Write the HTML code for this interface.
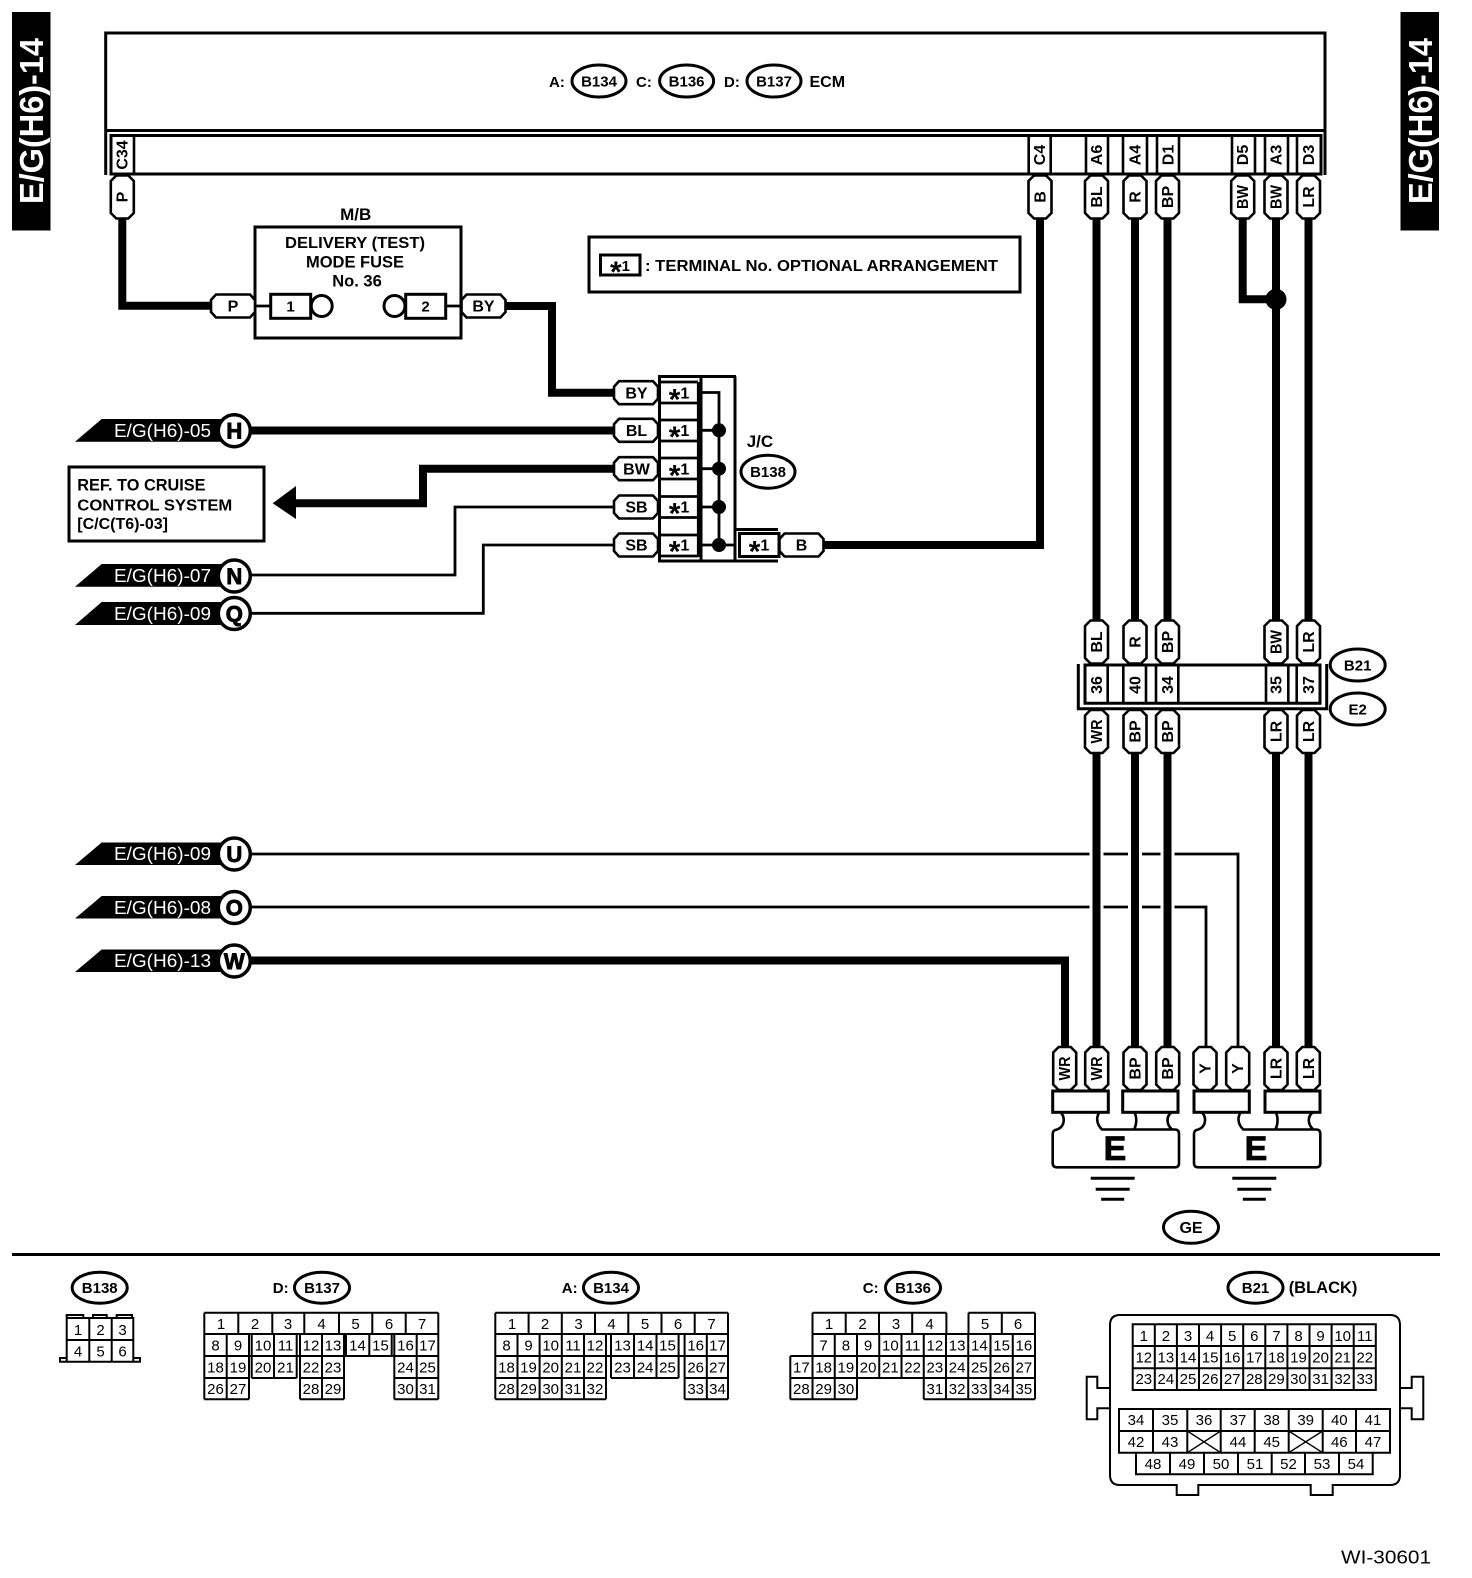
<!DOCTYPE html>
<html><head><meta charset="utf-8"><style>
html,body{margin:0;padding:0;background:#fff}
svg{display:block;font-family:"Liberation Sans",sans-serif}
.w{fill:none;stroke:#000;stroke-width:8}
.n{fill:none;stroke:#000;stroke-width:2.8}
.l{fill:none;stroke:#000;stroke-width:3}
.g{fill:none;stroke:#000;stroke-width:2}
.p{fill:#fff;stroke:#000;stroke-width:2.6}
.b{font-weight:bold;font-size:15px;fill:#000}
.pl{font-weight:bold;font-size:16px;text-anchor:middle}
.c{font-weight:bold;font-size:15px;text-anchor:middle}
.d{font-size:15px;text-anchor:middle}
.bn{font-size:18px;fill:#fff}
.ci{font-weight:bold;font-size:22px;text-anchor:middle;stroke:#000;stroke-width:.9}
.st{font-size:30px}
</style></head><body>
<svg width="1472" height="1578" viewBox="0 0 1472 1578" xmlns="http://www.w3.org/2000/svg">
<defs>
<path id="pv" class="p" d="M-11.5,-16 L-6,-21.5 H6 L11.5,-16 V16 L6,21.5 H-6 L-11.5,16 Z"/>
<path id="ph" class="p" d="M-22,-6 L-17,-11.5 H17 L22,-6 V6 L17,11.5 H-17 L-22,6 Z"/>
<path id="gnd" class="l" d="M-22,0 H22 M-17,11 H17 M-11.5,21 H11.5"/>
<path id="body" class="l" style="stroke-width:2.6" d="M1060,1112 C1065,1116 1065,1124 1060,1128 L1057,1129.5 Q1052.7,1130 1052.7,1134 V1163 Q1052.7,1167.3 1057,1167.3 H1175 Q1179,1167.3 1179,1163 V1134 Q1179,1129.5 1175,1129.5 H1102 C1096,1124 1096,1116 1100,1112 M1134,1112 C1137,1116 1137,1124 1134,1129.5 M1172,1112 C1166,1116 1166,1124 1172,1129.5"/>
</defs>

<!-- side tabs -->
<rect x="12" y="12" width="38.5" height="218.5" fill="#000"/>
<rect x="1400.5" y="12" width="38.5" height="218.5" fill="#000"/>
<text transform="translate(43,204) rotate(-90)" font-weight="bold" font-size="33" fill="#fff" textLength="166" lengthAdjust="spacingAndGlyphs">E/G(H6)-14</text>
<text transform="translate(1432,204) rotate(-90)" font-weight="bold" font-size="33" fill="#fff" textLength="166" lengthAdjust="spacingAndGlyphs">E/G(H6)-14</text>

<!-- ECM box -->
<path class="l" d="M105.7,175 V33 H1325 V175 M105.7,130.5 H1325"/>
<path class="l" d="M111,174 V135.5 H1321 V174 Z"/>
<path class="l" style="stroke-width:2.6" d="M134,135 V174 M1028.7,135 V174 M1050.7,135 V174 M1086,135 V174 M1108,135 V174 M1123,135 V174 M1147,135 V174 M1157,135 V174 M1179,135 V174 M1232,135 V174 M1255,135 V174 M1265,135 V174 M1288,135 V174 M1297,135 V174"/>
<text class="b" x="549" y="87">A:</text>
<ellipse class="l" cx="599" cy="81" rx="27" ry="16" fill="#fff"/>
<text class="c" x="599" y="86.5">B134</text>
<text class="b" x="636" y="87">C:</text>
<ellipse class="l" cx="686.6" cy="81" rx="27" ry="16" fill="#fff"/>
<text class="c" x="686.6" y="86.5">B136</text>
<text class="b" x="724" y="87">D:</text>
<ellipse class="l" cx="774" cy="81" rx="27" ry="16" fill="#fff"/>
<text class="c" x="774" y="86.5">B137</text>
<text class="b" x="809.5" y="87" style="font-size:16px">ECM</text>
<g class="pl">
<text transform="translate(127.5,155) rotate(-90)">C34</text>
<text transform="translate(1045,155) rotate(-90)">C4</text>
<text transform="translate(1102,155) rotate(-90)">A6</text>
<text transform="translate(1140.5,155) rotate(-90)">A4</text>
<text transform="translate(1173.5,155) rotate(-90)">D1</text>
<text transform="translate(1248,155) rotate(-90)">D5</text>
<text transform="translate(1281.5,155) rotate(-90)">A3</text>
<text transform="translate(1314,155) rotate(-90)">D3</text>
</g>

<!-- thin wires -->
<path class="n" d="M251,575 H455 V507 H616"/>
<path class="n" d="M251,613.3 H483.3 V545 H616"/>
<path class="n" d="M251,854 H1238 V1047"/>
<path class="n" d="M251,907 H1206 V1047"/>
<rect x="1089.5" y="848" width="14" height="65" fill="#fff"/>
<rect x="1128" y="848" width="14" height="65" fill="#fff"/>
<rect x="1160.5" y="848" width="14" height="65" fill="#fff"/>

<!-- thick wires -->
<path class="w" d="M122.3,218 V305.7 H212"/>
<path class="w" d="M506,306 H552 V392.7 H615"/>
<path class="w" d="M251,430.5 H615"/>
<path class="w" d="M295,503.3 H423 V468.7 H615"/>
<path class="w" d="M822,545 H1040 V218"/>
<path class="w" d="M1096.5,218 V620 M1135,218 V620 M1167.5,218 V620 M1276,218 V620 M1308.5,218 V620"/>
<path class="w" d="M1242.7,218 V299.3 H1276"/>
<circle cx="1276" cy="299.3" r="10.5" fill="#000"/>
<path class="w" d="M1096.5,753 V1047 M1135,753 V1047 M1167.5,753 V1047 M1276,753 V1047 M1308.5,753 V1047"/>
<path class="w" d="M251,960.5 H1065 V1047"/>

<!-- top pins -->
<use href="#pv" x="122.3" y="197"/>
<use href="#pv" x="1040" y="197"/>
<use href="#pv" x="1096.5" y="197"/>
<use href="#pv" x="1135" y="197"/>
<use href="#pv" x="1167.5" y="197"/>
<use href="#pv" x="1242.7" y="197"/>
<use href="#pv" x="1276" y="197"/>
<use href="#pv" x="1308.5" y="197"/>
<g class="pl">
<text transform="translate(127.7,197) rotate(-90)">P</text>
<text transform="translate(1045.4,197) rotate(-90)">B</text>
<text transform="translate(1102,197) rotate(-90)">BL</text>
<text transform="translate(1140.5,197) rotate(-90)">R</text>
<text transform="translate(1173,197) rotate(-90)">BP</text>
<text transform="translate(1248,197) rotate(-90)" textLength="24" lengthAdjust="spacingAndGlyphs">BW</text>
<text transform="translate(1281.5,197) rotate(-90)" textLength="24" lengthAdjust="spacingAndGlyphs">BW</text>
<text transform="translate(1314,197) rotate(-90)">LR</text>
</g>

<!-- M/B -->
<text class="c" x="355.7" y="220" style="font-size:17px">M/B</text>
<rect class="l" x="255" y="227" width="206" height="111" fill="#fff"/>
<text class="c" x="355" y="248" style="font-size:16px" textLength="140" lengthAdjust="spacingAndGlyphs">DELIVERY (TEST)</text>
<text class="c" x="355" y="267.7" style="font-size:16.5px">MODE FUSE</text>
<text class="c" x="357" y="286.7" style="font-size:16.5px">No. 36</text>
<path class="n" d="M255,306 H271 M446,306 H461"/>
<rect class="l" x="270.7" y="294.3" width="40" height="24" fill="#fff"/>
<rect class="l" x="405.7" y="294.3" width="40" height="24" fill="#fff"/>
<circle class="l" cx="321.7" cy="306" r="10.5" fill="#fff"/>
<circle class="l" cx="394.5" cy="306" r="10.5" fill="#fff"/>
<text class="c" x="290.5" y="311.5">1</text>
<text class="c" x="425.5" y="311.5">2</text>
<use href="#ph" x="233" y="306"/>
<use href="#ph" x="483.5" y="306"/>
<text class="c" x="233" y="311.5" style="font-size:16px">P</text>
<text class="c" x="483.5" y="311.5" style="font-size:16px">BY</text>

<!-- legend -->
<rect class="l" x="589" y="237" width="431" height="55" fill="#fff"/>
<rect class="l" x="600.5" y="255" width="39.5" height="20" fill="#fff"/>
<text class="c" x="620" y="271"><tspan class="st" dy="11">*</tspan><tspan dy="-11">1</tspan></text>
<text class="b" x="645" y="271" style="font-size:16px" textLength="353" lengthAdjust="spacingAndGlyphs">: TERMINAL No. OPTIONAL ARRANGEMENT</text>

<!-- J/C -->
<path class="l" d="M658,376.5 H736 M658,561 H778 M659.5,376.5 V561 M701,376.5 V561 M735,376.5 V561 M736,529.5 H778"/>
<path class="n" d="M698.3,382 V557 M660,382 H698 M660,403 H698 M660,420 H698 M660,441 H698 M660,458 H698 M660,479 H698 M660,496.5 H698 M660,517.5 H698 M660,535 H698 M660,556 H698"/>
<path class="n" d="M702,392.5 H719 V545 M702,430.3 H719 M702,468.7 H719 M702,507 H719 M702,545 H735"/>
<circle cx="719" cy="430.3" r="7" fill="#000"/>
<circle cx="719" cy="468.7" r="7" fill="#000"/>
<circle cx="719" cy="507" r="7" fill="#000"/>
<circle cx="719" cy="545" r="7" fill="#000"/>
<rect class="l" x="739.5" y="533.5" width="39.5" height="23" fill="#fff"/>
<use href="#ph" x="636" y="392.7"/>
<use href="#ph" x="636" y="430.3"/>
<use href="#ph" x="636" y="468.7"/>
<use href="#ph" x="636" y="507"/>
<use href="#ph" x="636" y="545"/>
<use href="#ph" x="801.5" y="545"/>
<g style="font-size:16px" class="c">
<text x="636.5" y="398.5">BY</text>
<text x="636.5" y="436">BL</text>
<text x="636.5" y="474.5">BW</text>
<text x="636.5" y="512.5">SB</text>
<text x="636.5" y="550.5">SB</text>
<text x="801.5" y="550.5">B</text>
<text x="679" y="398.5"><tspan class="st" dy="11">*</tspan><tspan dy="-11">1</tspan></text>
<text x="679" y="436"><tspan class="st" dy="11">*</tspan><tspan dy="-11">1</tspan></text>
<text x="679" y="474.5"><tspan class="st" dy="11">*</tspan><tspan dy="-11">1</tspan></text>
<text x="679" y="512.5"><tspan class="st" dy="11">*</tspan><tspan dy="-11">1</tspan></text>
<text x="679" y="550.5"><tspan class="st" dy="11">*</tspan><tspan dy="-11">1</tspan></text>
<text x="759" y="550.5"><tspan class="st" dy="11">*</tspan><tspan dy="-11">1</tspan></text>
</g>
<text class="b" x="746.7" y="447" style="font-size:17px">J/C</text>
<ellipse class="l" cx="768" cy="471.7" rx="27" ry="16.5" fill="#fff"/>
<text class="c" x="768" y="477">B138</text>

<!-- off-page banners -->
<path d="M75,441.7 L101.7,419 H230 V441.7 Z"/>
<path d="M75,586.7 L101.7,564 H230 V586.7 Z"/>
<path d="M75,625 L101.7,602 H230 V625 Z"/>
<path d="M75,865 L101.7,842.5 H230 V865 Z"/>
<path d="M75,918.5 L101.7,896 H230 V918.5 Z"/>
<path d="M75,972 L101.7,949.5 H230 V972 Z"/>
<g class="bn">
<text x="114" y="437" textLength="97" lengthAdjust="spacingAndGlyphs">E/G(H6)-05</text>
<text x="114" y="582" textLength="97" lengthAdjust="spacingAndGlyphs">E/G(H6)-07</text>
<text x="114" y="620" textLength="97" lengthAdjust="spacingAndGlyphs">E/G(H6)-09</text>
<text x="114" y="860" textLength="97" lengthAdjust="spacingAndGlyphs">E/G(H6)-09</text>
<text x="114" y="914" textLength="97" lengthAdjust="spacingAndGlyphs">E/G(H6)-08</text>
<text x="114" y="967" textLength="97" lengthAdjust="spacingAndGlyphs">E/G(H6)-13</text>
</g>
<g fill="#fff" stroke="#000" stroke-width="3.5">
<circle cx="234.3" cy="430.7" r="16"/>
<circle cx="234.3" cy="576" r="16"/>
<circle cx="234.3" cy="613.5" r="16"/>
<circle cx="234.3" cy="854" r="16"/>
<circle cx="234.3" cy="907.5" r="16"/>
<circle cx="234.3" cy="961" r="16"/>
</g>
<g class="ci">
<text x="234.3" y="438.5">H</text>
<text x="234.3" y="584">N</text>
<text x="234.3" y="621.5">Q</text>
<text x="234.3" y="862">U</text>
<text x="234.3" y="915.5">O</text>
<text x="234.3" y="969">W</text>
</g>

<!-- REF box -->
<rect class="l" x="69" y="467" width="195" height="74" fill="#fff"/>
<text class="b" x="77.3" y="490.7" style="font-size:16.3px">REF. TO CRUISE</text>
<text class="b" x="77.3" y="510.5" style="font-size:16px" textLength="155" lengthAdjust="spacingAndGlyphs">CONTROL SYSTEM</text>
<text class="b" x="77.3" y="529" style="font-size:16px">[C/C(T6)-03]</text>
<path d="M272.7,503.3 L296,486 V519 Z"/>

<!-- B21/E2 connector -->
<path class="l" d="M1078.3,664 V708.7 H1326.7 V664 M1085,665 V703.3 H1320 V665 Z"/>
<path class="l" style="stroke-width:2.6" d="M1107.7,665 V703 M1123.3,665 V703 M1146,665 V703 M1156,665 V703 M1178.3,665 V703 M1266,665 V703 M1288.3,665 V703 M1296.7,665 V703"/>
<use href="#pv" x="1096.5" y="642"/>
<use href="#pv" x="1135" y="642"/>
<use href="#pv" x="1167.5" y="642"/>
<use href="#pv" x="1276" y="642"/>
<use href="#pv" x="1308.5" y="642"/>
<use href="#pv" x="1096.5" y="731.5"/>
<use href="#pv" x="1135" y="731.5"/>
<use href="#pv" x="1167.5" y="731.5"/>
<use href="#pv" x="1276" y="731.5"/>
<use href="#pv" x="1308.5" y="731.5"/>
<g class="pl">
<text transform="translate(1102,642) rotate(-90)">BL</text>
<text transform="translate(1140.5,642) rotate(-90)">R</text>
<text transform="translate(1173,642) rotate(-90)">BP</text>
<text transform="translate(1281.5,642) rotate(-90)" textLength="24" lengthAdjust="spacingAndGlyphs">BW</text>
<text transform="translate(1314,642) rotate(-90)">LR</text>
<text transform="translate(1102,685) rotate(-90)">36</text>
<text transform="translate(1140.5,685) rotate(-90)">40</text>
<text transform="translate(1173,685) rotate(-90)">34</text>
<text transform="translate(1281.5,685) rotate(-90)">35</text>
<text transform="translate(1314,685) rotate(-90)">37</text>
<text transform="translate(1102,731.5) rotate(-90)" textLength="24" lengthAdjust="spacingAndGlyphs">WR</text>
<text transform="translate(1140.5,731.5) rotate(-90)">BP</text>
<text transform="translate(1173,731.5) rotate(-90)">BP</text>
<text transform="translate(1281.5,731.5) rotate(-90)">LR</text>
<text transform="translate(1314,731.5) rotate(-90)">LR</text>
</g>
<ellipse class="l" cx="1357.7" cy="665" rx="27.5" ry="16" fill="#fff"/>
<text class="c" x="1357.7" y="670.5">B21</text>
<ellipse class="l" cx="1357.7" cy="709" rx="27.5" ry="16" fill="#fff"/>
<text class="c" x="1357.7" y="714.5">E2</text>

<!-- ground pins -->
<use href="#pv" x="1064.7" y="1068.5"/>
<use href="#pv" x="1096.7" y="1068.5"/>
<use href="#pv" x="1135" y="1068.5"/>
<use href="#pv" x="1167.7" y="1068.5"/>
<use href="#pv" x="1205" y="1068.5"/>
<use href="#pv" x="1237.7" y="1068.5"/>
<use href="#pv" x="1276" y="1068.5"/>
<use href="#pv" x="1308.3" y="1068.5"/>
<g class="pl">
<text transform="translate(1070.2,1068.5) rotate(-90)" textLength="24" lengthAdjust="spacingAndGlyphs">WR</text>
<text transform="translate(1102.2,1068.5) rotate(-90)" textLength="24" lengthAdjust="spacingAndGlyphs">WR</text>
<text transform="translate(1140.5,1068.5) rotate(-90)">BP</text>
<text transform="translate(1173.2,1068.5) rotate(-90)">BP</text>
<text transform="translate(1210.5,1068.5) rotate(-90)">Y</text>
<text transform="translate(1243.2,1068.5) rotate(-90)">Y</text>
<text transform="translate(1281.5,1068.5) rotate(-90)">LR</text>
<text transform="translate(1313.8,1068.5) rotate(-90)">LR</text>
</g>
<g class="l" fill="#fff" style="fill:#fff">
<rect x="1052.7" y="1091" width="55.6" height="21.3"/>
<rect x="1122.7" y="1091" width="55.3" height="21.3"/>
<rect x="1194" y="1091" width="55.3" height="21.3"/>
<rect x="1265" y="1091" width="55" height="21.3"/>
</g>
<use href="#body"/>
<use href="#body" x="141.3"/>
<text x="1115" y="1160" font-weight="bold" font-size="34" text-anchor="middle" stroke="#000" stroke-width=".8">E</text>
<text x="1256" y="1160" font-weight="bold" font-size="34" text-anchor="middle" stroke="#000" stroke-width=".8">E</text>
<use href="#gnd" x="1112.7" y="1178.3"/>
<use href="#gnd" x="1254.3" y="1178.3"/>
<ellipse class="l" cx="1191" cy="1227.3" rx="27.5" ry="16" fill="#fff"/>
<text class="c" x="1191" y="1233" style="font-size:16px">GE</text>

<!-- divider -->
<path class="l" d="M12,1254.5 H1440"/>

<!-- B138 connector -->
<ellipse class="l" cx="99.7" cy="1287.7" rx="27.5" ry="15.5" fill="#fff"/>
<text class="c" x="99.7" y="1293">B138</text>
<path class="g" d="M66.7,1318 V1361.7 H133.3 V1318 H66.7 M66.7,1340 H133.3 M89.3,1318 V1361.7 M111.7,1318 V1361.7 M66.7,1318 V1315 H83.3 V1318 M93,1318 V1315 H106.7 V1318 M116.7,1318 V1315 H132 V1318 M66.7,1358 H60 V1361.7 H66.7 M133.3,1358 H140 V1361.7 H133.3"/>
<g class="d">
<text x="78" y="1335">1</text><text x="100.5" y="1335">2</text><text x="122.5" y="1335">3</text>
<text x="78" y="1356.5">4</text><text x="100.5" y="1356.5">5</text><text x="122.5" y="1356.5">6</text>
</g>

<!-- D:B137 -->
<text class="b" x="272.8" y="1293">D:</text>
<ellipse class="l" cx="322" cy="1287.7" rx="27.5" ry="15.5" fill="#fff"/>
<text class="c" x="322" y="1293">B137</text>
<path class="g" d="M204.3,1312.7 H438.3 M204.3,1334 H438.3 M204.3,1356 H438.3 M204.3,1378 H249 M251.7,1378 H296.7 M300,1378 H344 M394.3,1378 H438.3 M204.3,1399.3 H249 M300,1399.3 H344 M394.3,1399.3 H438.3
M204.3,1312.7 V1399.3 M438.3,1312.7 V1399.3
M238.3,1312.7 V1334 M272.3,1312.7 V1334 M304.3,1312.7 V1334 M339,1312.7 V1334 M372.3,1312.7 V1334 M405.7,1312.7 V1334
M226.7,1334 V1399.3 M249,1334 V1399.3 M251.7,1334 V1378 M274,1334 V1378 M296.7,1334 V1378 M300,1334 V1399.3 M322,1334 V1399.3 M344,1334 V1399.3 M346,1334 V1356 M369.3,1334 V1356 M391.7,1334 V1356 M394.3,1334 V1399.3 M416.7,1334 V1399.3"/>
<g class="d">
<text x="221" y="1329">1</text><text x="255" y="1329">2</text><text x="288" y="1329">3</text><text x="321.5" y="1329">4</text><text x="355.5" y="1329">5</text><text x="389" y="1329">6</text><text x="422" y="1329">7</text>
<text x="215.5" y="1350.5">8</text><text x="238" y="1350.5">9</text><text x="263" y="1350.5">10</text><text x="285.5" y="1350.5">11</text><text x="311" y="1350.5">12</text><text x="333" y="1350.5">13</text><text x="357.5" y="1350.5">14</text><text x="380.5" y="1350.5">15</text><text x="405.5" y="1350.5">16</text><text x="427.5" y="1350.5">17</text>
<text x="215.5" y="1372.5">18</text><text x="238" y="1372.5">19</text><text x="263" y="1372.5">20</text><text x="285.5" y="1372.5">21</text><text x="311" y="1372.5">22</text><text x="333" y="1372.5">23</text><text x="405.5" y="1372.5">24</text><text x="427.5" y="1372.5">25</text>
<text x="215.5" y="1394">26</text><text x="238" y="1394">27</text><text x="311" y="1394">28</text><text x="333" y="1394">29</text><text x="405.5" y="1394">30</text><text x="427.5" y="1394">31</text>
</g>

<!-- A:B134 -->
<text class="b" x="561.8" y="1293">A:</text>
<ellipse class="l" cx="611" cy="1287.7" rx="27.5" ry="15.5" fill="#fff"/>
<text class="c" x="611" y="1293">B134</text>
<path class="g" d="M495.3,1312.7 H728 M495.3,1334 H728 M495.3,1356 H728 M495.3,1378 H606 M611,1378 H678.6 M684.6,1378 H728 M495.3,1399.3 H606 M684.6,1399.3 H728
M495.3,1312.7 V1399.3 M728,1312.7 V1399.3
M528.6,1312.7 V1334 M561.8,1312.7 V1334 M595,1312.7 V1334 M628.3,1312.7 V1334 M661.5,1312.7 V1334 M694.7,1312.7 V1334
M517.5,1334 V1399.3 M539.6,1334 V1399.3 M561.8,1334 V1399.3 M584,1334 V1399.3 M606,1334 V1399.3 M611,1334 V1378 M634,1334 V1378 M656.5,1334 V1378 M678.6,1334 V1378 M684.6,1334 V1399.3 M706.8,1334 V1399.3"/>
<g class="d">
<text x="512" y="1329">1</text><text x="545" y="1329">2</text><text x="578.5" y="1329">3</text><text x="611.5" y="1329">4</text><text x="645" y="1329">5</text><text x="678" y="1329">6</text><text x="711.5" y="1329">7</text>
<text x="506.5" y="1350.5">8</text><text x="528.5" y="1350.5">9</text><text x="550.7" y="1350.5">10</text><text x="573" y="1350.5">11</text><text x="595" y="1350.5">12</text><text x="622.5" y="1350.5">13</text><text x="645.2" y="1350.5">14</text><text x="667.5" y="1350.5">15</text><text x="695.7" y="1350.5">16</text><text x="717.5" y="1350.5">17</text>
<text x="506.5" y="1372.5">18</text><text x="528.5" y="1372.5">19</text><text x="550.7" y="1372.5">20</text><text x="573" y="1372.5">21</text><text x="595" y="1372.5">22</text><text x="622.5" y="1372.5">23</text><text x="645.2" y="1372.5">24</text><text x="667.5" y="1372.5">25</text><text x="695.7" y="1372.5">26</text><text x="717.5" y="1372.5">27</text>
<text x="506.5" y="1394">28</text><text x="528.5" y="1394">29</text><text x="550.7" y="1394">30</text><text x="573" y="1394">31</text><text x="595" y="1394">32</text><text x="695.7" y="1394">33</text><text x="717.5" y="1394">34</text>
</g>

<!-- C:B136 -->
<text class="b" x="862.8" y="1293">C:</text>
<ellipse class="l" cx="913" cy="1287.7" rx="27.5" ry="15.5" fill="#fff"/>
<text class="c" x="913" y="1293">B136</text>
<path class="g" d="M812.5,1312.7 H946.4 M968.5,1312.7 H1035 M812.5,1334 H1035 M790.3,1356 H1035 M790.3,1378 H1035 M790.3,1399.3 H857 M923.75,1399.3 H1035
M812.5,1312.7 V1356 M845.7,1312.7 V1334 M879,1312.7 V1334 M912.2,1312.7 V1334 M946.4,1312.7 V1334 M968.5,1312.7 V1334 M1001.8,1312.7 V1334 M1035,1312.7 V1399.3
M834.75,1334 V1399.3 M857,1334 V1399.3 M879.25,1334 V1378 M901.5,1334 V1378 M923.75,1334 V1399.3 M946,1334 V1399.3 M968.25,1334 V1399.3 M990.5,1334 V1399.3 M1012.75,1334 V1399.3
M790.3,1356 V1399.3 M812.5,1356 V1399.3"/>
<g class="d">
<text x="829" y="1329">1</text><text x="862.5" y="1329">2</text><text x="896" y="1329">3</text><text x="929.5" y="1329">4</text><text x="985" y="1329">5</text><text x="1018" y="1329">6</text>
<text x="823.6" y="1350.5">7</text><text x="845.9" y="1350.5">8</text><text x="868.1" y="1350.5">9</text><text x="890.4" y="1350.5">10</text><text x="912.6" y="1350.5">11</text><text x="934.9" y="1350.5">12</text><text x="957.1" y="1350.5">13</text><text x="979.4" y="1350.5">14</text><text x="1001.6" y="1350.5">15</text><text x="1023.9" y="1350.5">16</text>
<text x="801.4" y="1372.5">17</text><text x="823.6" y="1372.5">18</text><text x="845.9" y="1372.5">19</text><text x="868.1" y="1372.5">20</text><text x="890.4" y="1372.5">21</text><text x="912.6" y="1372.5">22</text><text x="934.9" y="1372.5">23</text><text x="957.1" y="1372.5">24</text><text x="979.4" y="1372.5">25</text><text x="1001.6" y="1372.5">26</text><text x="1023.9" y="1372.5">27</text>
<text x="801.4" y="1394">28</text><text x="823.6" y="1394">29</text><text x="845.9" y="1394">30</text><text x="934.9" y="1394">31</text><text x="957.1" y="1394">32</text><text x="979.4" y="1394">33</text><text x="1001.6" y="1394">34</text><text x="1023.9" y="1394">35</text>
</g>

<!-- B21 connector -->
<ellipse class="l" cx="1255.5" cy="1287.7" rx="27.5" ry="15.5" fill="#fff"/>
<text class="c" x="1255.5" y="1293">B21</text>
<text class="b" x="1288.7" y="1293" style="font-size:16.5px">(BLACK)</text>
<path class="g" d="M1120,1315 H1390 Q1400,1315 1400,1325 V1475 Q1400,1485 1390,1485 H1332.7 V1495 H1310.7 V1485 H1198.3 V1495 H1176.7 V1485 H1120 Q1110,1485 1110,1475 V1325 Q1110,1315 1120,1315 Z
M1110,1388 H1097.3 V1376.7 H1086.7 V1419.3 H1097.3 V1408.3 H1110
M1400,1388 H1411.7 V1376.7 H1423.3 V1419.3 H1411.7 V1408.3 H1400"/>
<path class="g" d="M1132.7,1324.3 H1375.8 V1390 H1132.7 Z M1132.7,1346 H1375.8 M1132.7,1368.3 H1375.8
M1154.8,1324.3 V1390 M1176.9,1324.3 V1390 M1199,1324.3 V1390 M1221.1,1324.3 V1390 M1243.2,1324.3 V1390 M1265.3,1324.3 V1390 M1287.4,1324.3 V1390 M1309.5,1324.3 V1390 M1331.6,1324.3 V1390 M1353.7,1324.3 V1390"/>
<path class="g" d="M1119,1409 H1390 V1452.7 H1119 Z M1119,1431 H1390
M1153,1409 V1452.7 M1187.3,1409 V1452.7 M1220.7,1409 V1452.7 M1254.7,1409 V1452.7 M1288.7,1409 V1452.7 M1322.7,1409 V1452.7 M1356,1409 V1452.7
M1136,1452.7 V1474.3 H1372.7 V1452.7 M1170,1452.7 V1474.3 M1204,1452.7 V1474.3 M1238,1452.7 V1474.3 M1271.7,1452.7 V1474.3 M1305,1452.7 V1474.3 M1339,1452.7 V1474.3"/>
<path fill="none" stroke="#000" stroke-width="1.4" d="M1187.3,1431 L1220.7,1452.7 M1220.7,1431 L1187.3,1452.7 M1288.7,1431 L1322.7,1452.7 M1322.7,1431 L1288.7,1452.7"/>
<g class="d">
<text x="1143.8" y="1341">1</text><text x="1165.9" y="1341">2</text><text x="1188" y="1341">3</text><text x="1210.1" y="1341">4</text><text x="1232.2" y="1341">5</text><text x="1254.3" y="1341">6</text><text x="1276.4" y="1341">7</text><text x="1298.5" y="1341">8</text><text x="1320.6" y="1341">9</text><text x="1342.7" y="1341">10</text><text x="1364.8" y="1341">11</text>
<text x="1143.8" y="1362.5">12</text><text x="1165.9" y="1362.5">13</text><text x="1188" y="1362.5">14</text><text x="1210.1" y="1362.5">15</text><text x="1232.2" y="1362.5">16</text><text x="1254.3" y="1362.5">17</text><text x="1276.4" y="1362.5">18</text><text x="1298.5" y="1362.5">19</text><text x="1320.6" y="1362.5">20</text><text x="1342.7" y="1362.5">21</text><text x="1364.8" y="1362.5">22</text>
<text x="1143.8" y="1384">23</text><text x="1165.9" y="1384">24</text><text x="1188" y="1384">25</text><text x="1210.1" y="1384">26</text><text x="1232.2" y="1384">27</text><text x="1254.3" y="1384">28</text><text x="1276.4" y="1384">29</text><text x="1298.5" y="1384">30</text><text x="1320.6" y="1384">31</text><text x="1342.7" y="1384">32</text><text x="1364.8" y="1384">33</text>
<text x="1136" y="1425">34</text><text x="1170" y="1425">35</text><text x="1204" y="1425">36</text><text x="1238" y="1425">37</text><text x="1271.7" y="1425">38</text><text x="1305.7" y="1425">39</text><text x="1339.3" y="1425">40</text><text x="1373" y="1425">41</text>
<text x="1136" y="1447">42</text><text x="1170" y="1447">43</text><text x="1238" y="1447">44</text><text x="1271.7" y="1447">45</text><text x="1339.3" y="1447">46</text><text x="1373" y="1447">47</text>
<text x="1153" y="1469">48</text><text x="1187" y="1469">49</text><text x="1221" y="1469">50</text><text x="1255" y="1469">51</text><text x="1288.5" y="1469">52</text><text x="1322" y="1469">53</text><text x="1356" y="1469">54</text>
</g>

<text x="1341" y="1563.5" font-size="18" textLength="90" lengthAdjust="spacingAndGlyphs">WI-30601</text>
</svg>
</body></html>
